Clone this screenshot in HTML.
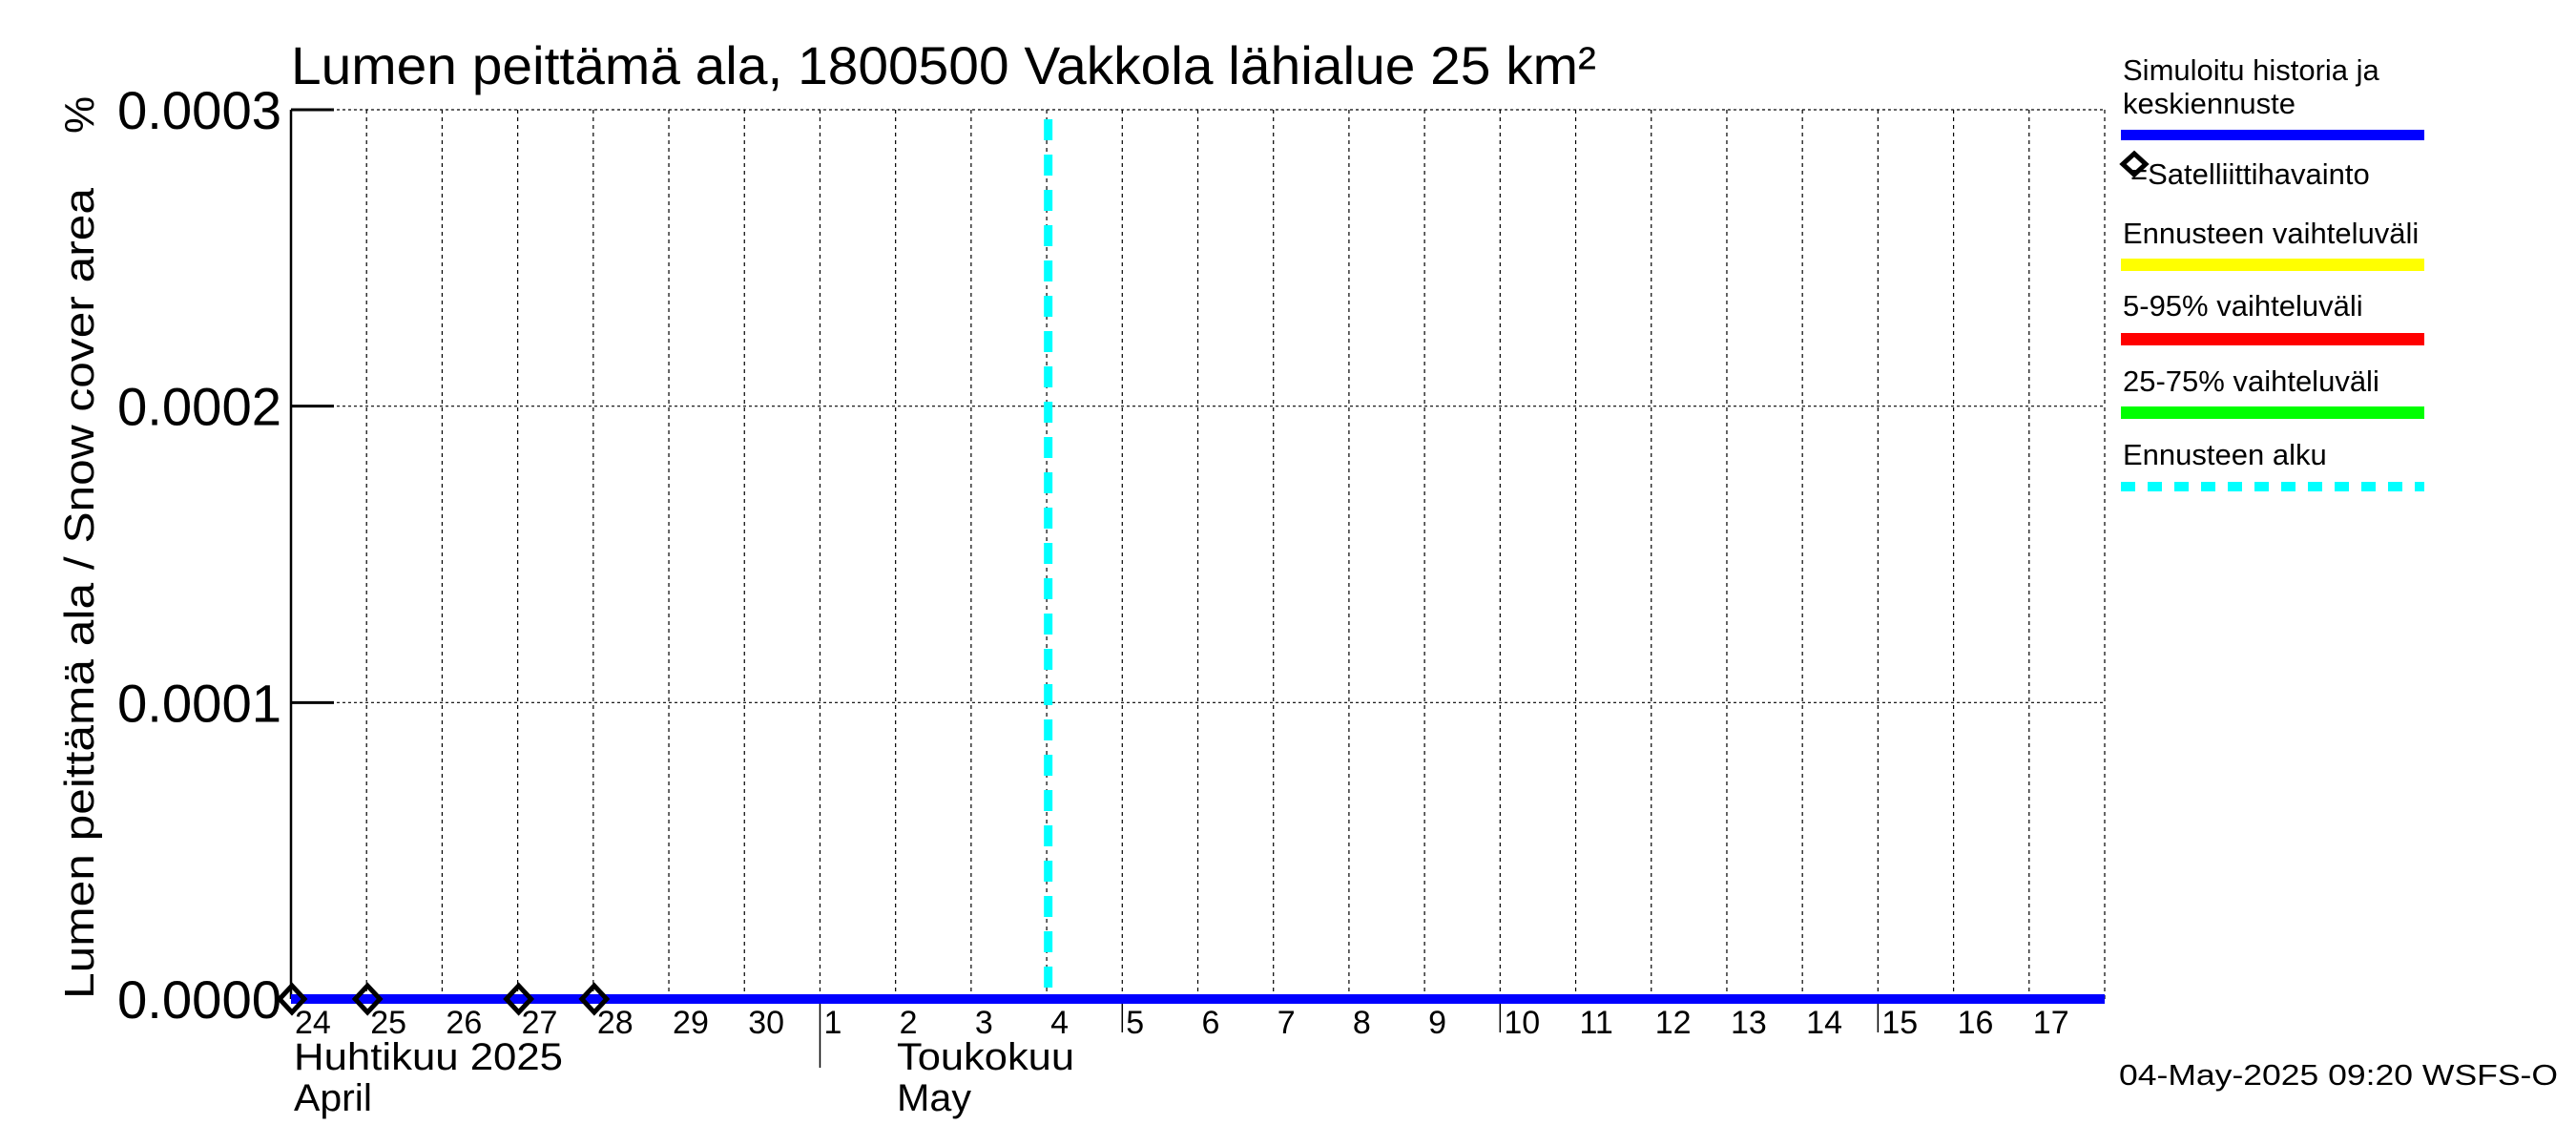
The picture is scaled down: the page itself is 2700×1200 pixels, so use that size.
<!DOCTYPE html>
<html><head><meta charset="utf-8"><style>
html,body{margin:0;padding:0;background:#fff;}
svg{display:block;font-family:"Liberation Sans",sans-serif;}
</style></head><body>
<svg id="chart" width="2700" height="1200" viewBox="0 0 2700 1200" xmlns="http://www.w3.org/2000/svg">
<g id="grid"></g>
<g id="axes"></g>
<g id="series"></g>
<text x="305" y="88" font-size="56" textLength="1368" lengthAdjust="spacingAndGlyphs">Lumen peittämä ala, 1800500 Vakkola lähialue 25 km²</text>
<text transform="translate(98,1047) rotate(-90)" font-size="44" textLength="850" lengthAdjust="spacingAndGlyphs">Lumen peittämä ala / Snow cover area</text>
<text transform="translate(98,140) rotate(-90)" font-size="44">%</text>
<text x="308" y="1121" font-size="40" textLength="282" lengthAdjust="spacingAndGlyphs">Huhtikuu  2025</text>
<text x="308" y="1164" font-size="40" textLength="82" lengthAdjust="spacingAndGlyphs">April</text>
<text x="940" y="1121" font-size="40" textLength="186" lengthAdjust="spacingAndGlyphs">Toukokuu</text>
<text x="940" y="1164" font-size="40" textLength="78" lengthAdjust="spacingAndGlyphs">May</text>
<text x="2221" y="1137" font-size="31" textLength="460" lengthAdjust="spacingAndGlyphs">04-May-2025 09:20 WSFS-O</text>
<g id="legend">
<text x="2225" y="84" font-size="31">Simuloitu historia ja</text>
<text x="2225" y="119" font-size="31">keskiennuste</text>
<rect x="2223" y="136" width="318" height="11" fill="#0000ff"/>
<path d="M2225 172 L2237 161 L2249 172 L2237 183 Z" fill="none" stroke="#000" stroke-width="5"/>
<text x="2233" y="193" font-size="31">=Satelliittihavainto</text>
<text x="2225" y="255" font-size="31">Ennusteen vaihteluväli</text>
<rect x="2223" y="271" width="318" height="13" fill="#ffff00"/>
<text x="2225" y="331" font-size="31">5-95% vaihteluväli</text>
<rect x="2223" y="349" width="318" height="13" fill="#ff0000"/>
<text x="2225" y="410" font-size="31">25-75% vaihteluväli</text>
<rect x="2223" y="426" width="318" height="13" fill="#00ff00"/>
<text x="2225" y="487" font-size="31">Ennusteen alku</text>
<line x1="2223" y1="510" x2="2541" y2="510" stroke="#00ffff" stroke-width="10" stroke-dasharray="15,13"/>
</g>
</svg>
<script>
const dayLabels=["24","25","26","27","28","29","30","1","2","3","4","5","6","7","8","9","10","11","12","13","14","15","16","17"];
const yTicks=[0,0.0001,0.0002,0.0003];
const yTickLabels=["0.0000","0.0001","0.0002","0.0003"];
const simDays=[0,24];
const simValues=[0,0];
const obsDays=[0,1,3,4];
const obsValues=[0,0,0,0];
const forecastStartDay=10.02;

const NS="http://www.w3.org/2000/svg";
const X0=305,X1=2206,Y0=1047,Y1=115,NDAYS=24,YMAX=0.0003;
function xs(d){return X0+(X1-X0)*d/NDAYS;}
function ys(v){return Y0-(Y0-Y1)*v/YMAX;}
function mk(tag,attrs,parent){const e=document.createElementNS(NS,tag);for(const k in attrs)e.setAttribute(k,attrs[k]);parent.appendChild(e);return e;}
const grid=document.getElementById('grid'),axes=document.getElementById('axes'),series=document.getElementById('series');

for(let i=1;i<=NDAYS;i++){
  const l=mk('line',{x1:xs(i),x2:xs(i),y1:Y1,y2:Y0,stroke:'#000','stroke-width':1.2,'stroke-dasharray':'4,4'},grid);
  
  
}
yTicks.forEach((t,i)=>{
  if(t>0){
    const g=mk('line',{x1:X0,x2:X1,y1:ys(t),y2:ys(t),stroke:'#000','stroke-width':1.2,'stroke-dasharray':'3,3'},grid);
    
    
  }
  const tk=mk('line',{x1:X0,x2:X0+45,y1:ys(t),y2:ys(t),stroke:'#000','stroke-width':3},axes);
  
  
  const tx=mk('text',{x:X0-10,y:ys(t)+20,'font-size':56,'text-anchor':'end',textLength:172,lengthAdjust:'spacingAndGlyphs'},axes);
  tx.textContent=yTickLabels[i];
  
  
});
const ax=mk('line',{x1:X0,x2:X0,y1:Y1,y2:Y0,stroke:'#000','stroke-width':2.5},axes);


dayLabels.forEach((d,i)=>{
  const t=mk('text',{x:xs(i)+4,y:1083,'font-size':34},axes);
  t.textContent=d;
  
  
  if(d==="1"){
    const m=mk('line',{x1:xs(i),x2:xs(i),y1:Y0,y2:1119,stroke:'#000','stroke-width':1.5},axes);
    
    
  } else if(i>7 && (+d)%5===0){
    const m=mk('line',{x1:xs(i),x2:xs(i),y1:Y0,y2:1082,stroke:'#000','stroke-width':1.5},axes);
    
    
  }
});
const fs=mk('line',{x1:xs(forecastStartDay),x2:xs(forecastStartDay),y1:125,y2:Y0,stroke:'#00ffff','stroke-width':9,'stroke-dasharray':'22,15'},series);


const sim=mk('polyline',{points:simDays.map((d,i)=>xs(d)+','+ys(simValues[i])).join(' '),fill:'none',stroke:'#0000ff','stroke-width':10},series);


obsDays.forEach((d,i)=>{
  const cx=xs(d)+1,cy=ys(obsValues[i]);
  const p=mk('path',{d:`M${cx-13} ${cy} L${cx} ${cy-14} L${cx+13} ${cy} L${cx} ${cy+14} Z`,fill:'none',stroke:'#000','stroke-width':5},series);
  
  
});
</script>
</body></html>
